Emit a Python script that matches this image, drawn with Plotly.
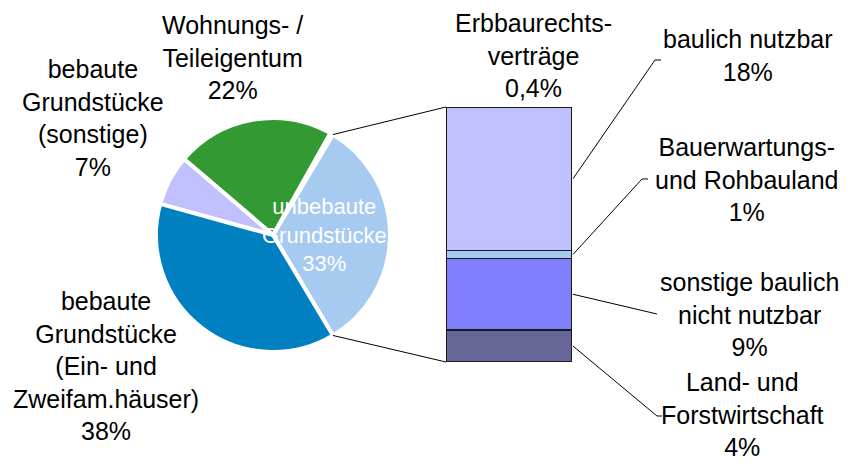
import math
import plotly.graph_objects as go

# the page has an 8px body margin, so the figure is a bit smaller than the window
OFF = 8
W, H = 854 - 2 * OFF, 468 - 2 * OFF

# pie data (counterclockwise, starting with the slice that is broken out into the bar)
pie_labels = ["unbebaute<br>Grundstücke", "Erbbaurechts-<br>verträge", "Wohnungs- /<br>Teileigentum",
              "bebaute<br>Grundstücke<br>(sonstige)", "bebaute<br>Grundstücke<br>(Ein- und<br>Zweifam.häuser)"]
pie_values = [33, 0.4, 22, 7, 38]
pie_colors = ["#a6caf0", "#2e9e3a", "#339933", "#c0c0ff", "#0080c0"]

# bar data (bottom to top), split of "unbebaute Grundstücke"
bar_labels = ["Land- und<br>Forstwirtschaft", "sonstige baulich<br>nicht nutzbar",
              "Bauerwartungs-<br>und Rohbauland", "baulich nutzbar"]
bar_values = [4, 9, 1, 18]
bar_colors = ["#666699", "#8080ff", "#a6caf0", "#c0c0ff"]

FONT = "Liberation Sans, Arial, sans-serif"


def pct(v):
    return f"{v:g}%".replace(".", ",")


# screen pixel -> paper coords
def px(x):
    return (x - OFF) / W


def py(y):
    return 1 - (y - OFF) / H


# layout geometry (screen pixels)
cx, cy, r = 273, 235, 117
bar_x0, bar_x1, bar_top, bar_bot = 446, 572, 107, 362

half = 180 * pie_values[0] / sum(pie_values)

fig = go.Figure()
fig.add_trace(go.Pie(
    labels=[l.replace("<br>", " ") for l in pie_labels],
    values=pie_values,
    marker=dict(colors=pie_colors, line=dict(color="white", width=4)),
    sort=False,
    direction="counterclockwise",
    rotation=90 - half,
    textinfo="none",
    hoverinfo="label+percent",
    showlegend=False,
    domain=dict(x=[px(cx - r), px(cx + r)], y=[py(cy + r), py(cy - r)]),
))

for lab, val, col in zip(bar_labels, bar_values, bar_colors):
    fig.add_trace(go.Bar(
        x=[0], y=[val], width=1,
        name=lab.replace("<br>", " "),
        marker=dict(color=col, line=dict(color="#1a1a1a", width=1.5)),
        showlegend=False,
        xaxis="x", yaxis="y",
    ))

# label positions (screen pixel centers)
pie_label_pos = [(324, 235), (533, 55), (232, 57), (93, 118), (106, 366)]
bar_label_pos = [(742, 414), (749, 314), (747, 179), (748, 55)]
leader_end = [(657, 416), (657, 314), (642, 179), (655, 60)]
leader_tick = [5, 0, 6, 6]

annotations = []
for i, (lab, val) in enumerate(zip(pie_labels, pie_values)):
    x, y = pie_label_pos[i]
    inside = i == 0
    annotations.append(dict(
        x=px(x), y=py(y), xref="paper", yref="paper",
        text=f"{lab}<br>{pct(val)}", showarrow=False, align="center",
        xanchor="center", yanchor="middle",
        font=dict(family=FONT, size=22 if inside else 25, color="white" if inside else "black"),
    ))
for i, (lab, val) in enumerate(zip(bar_labels, bar_values)):
    x, y = bar_label_pos[i]
    annotations.append(dict(
        x=px(x), y=py(y), xref="paper", yref="paper",
        text=f"{lab}<br>{pct(val)}", showarrow=False, align="center",
        xanchor="center", yanchor="middle",
        font=dict(family=FONT, size=25, color="black"),
    ))

shapes = []
# connectors from pie slice edges to the bar
scale = (bar_bot - bar_top) / sum(bar_values)
for ang, by in [(half, bar_top), (-half, bar_bot)]:
    a = math.radians(ang)
    x0, y0 = cx + r * math.cos(a), cy - r * math.sin(a)
    shapes.append(dict(type="line", xref="paper", yref="paper",
                       x0=px(x0), y0=py(y0), x1=px(bar_x0), y1=py(by),
                       line=dict(color="black", width=1)))

# leader lines from segment middles to labels
cum = 0
for i, val in enumerate(bar_values):
    mid = bar_bot - (cum + val / 2) * scale
    cum += val
    ex, ey = leader_end[i]
    path = f"M {px(bar_x1 + 1)},{py(mid)} L {px(ex)},{py(ey)}"
    if leader_tick[i]:
        path += f" L {px(ex + leader_tick[i])},{py(ey)}"
    shapes.append(dict(type="path", xref="paper", yref="paper", path=path,
                       line=dict(color="black", width=1)))

fig.update_layout(
    width=W, height=H,
    margin=dict(l=0, r=0, t=0, b=0),
    paper_bgcolor="white", plot_bgcolor="white",
    barmode="stack",
    xaxis=dict(domain=[px(bar_x0), px(bar_x1)], range=[-0.5, 0.5], visible=False, fixedrange=True),
    yaxis=dict(domain=[py(bar_bot), py(bar_top)], range=[0, sum(bar_values)], visible=False, fixedrange=True),
    annotations=annotations,
    shapes=shapes,
    font=dict(family=FONT),
)

fig.write_html("out.html")
